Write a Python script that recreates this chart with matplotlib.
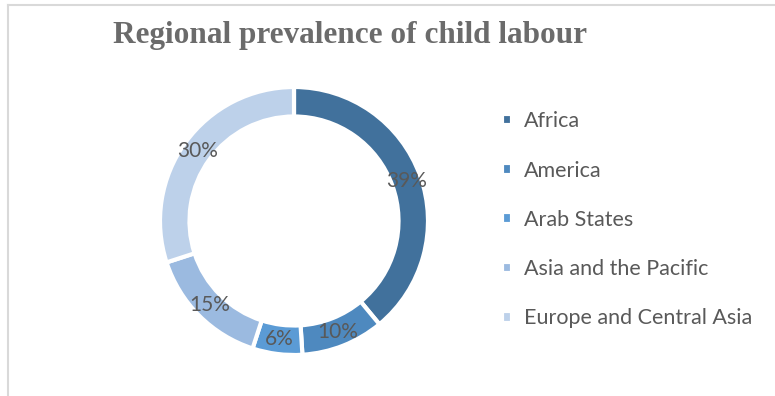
import matplotlib
matplotlib.use("Agg")
import matplotlib.pyplot as plt
from matplotlib.lines import Line2D

regions = ["Africa", "America", "Arab States", "Asia and the Pacific", "Europe and Central Asia"]
shares = [39, 10, 6, 15, 30]
colors = ["#41719c", "#4e89bf", "#5b9bd5", "#9bbae0", "#bdd1ea"]

W, H = 775, 396
fig = plt.figure(figsize=(W / 100, H / 100), dpi=100)
fig.patch.set_facecolor("white")

# thin frame along the top and left edges
frame = "#d9d9d9"
fig.add_artist(Line2D([7.5 / W, 1], [1 - 4.5 / H, 1 - 4.5 / H], transform=fig.transFigure,
                      color=frame, lw=1.5))
fig.add_artist(Line2D([7.5 / W, 7.5 / W], [0, 1 - 4.5 / H], transform=fig.transFigure,
                      color=frame, lw=1.5))

# donut axes: centre (294, 221) px, outer radius 134 px
cx, cy, r = 294, 221, 134
ax = fig.add_axes([(cx - r) / W, (H - cy - r) / H, 2 * r / W, 2 * r / H])

ring = 0.22
wedges, texts, autotexts = ax.pie(
    shares, colors=colors, startangle=90, counterclock=False, radius=1.0,
    wedgeprops=dict(width=ring, edgecolor="white", linewidth=3),
    autopct=lambda p: f"{p:.0f}%", pctdistance=1 - ring / 2,
    textprops=dict(color="#595959", fontsize=15, family="Lato"),
)
for t in autotexts:
    t.set_ha("center")
    t.set_va("center")
ax.set_xlim(-1, 1)
ax.set_ylim(-1, 1)
ax.set_axis_off()

fig.text(350 / W, 1 - 36 / H, "Regional prevalence of child labour",
         ha="center", va="center", fontsize=22.5, fontweight="bold",
         family="Liberation Serif", color="#6b6b6b")

leg = fig.legend(wedges, regions, loc="upper left", bbox_to_anchor=(483 / W, 1 - 92 / H),
                 frameon=False, labelspacing=1.36,
                 handlelength=0.45, handleheight=0.45, handletextpad=0.55,
                 prop=dict(family="Lato", size=15.5))
for t in leg.get_texts():
    t.set_color("#595959")

fig.savefig("out.png", dpi=100, facecolor="white")
